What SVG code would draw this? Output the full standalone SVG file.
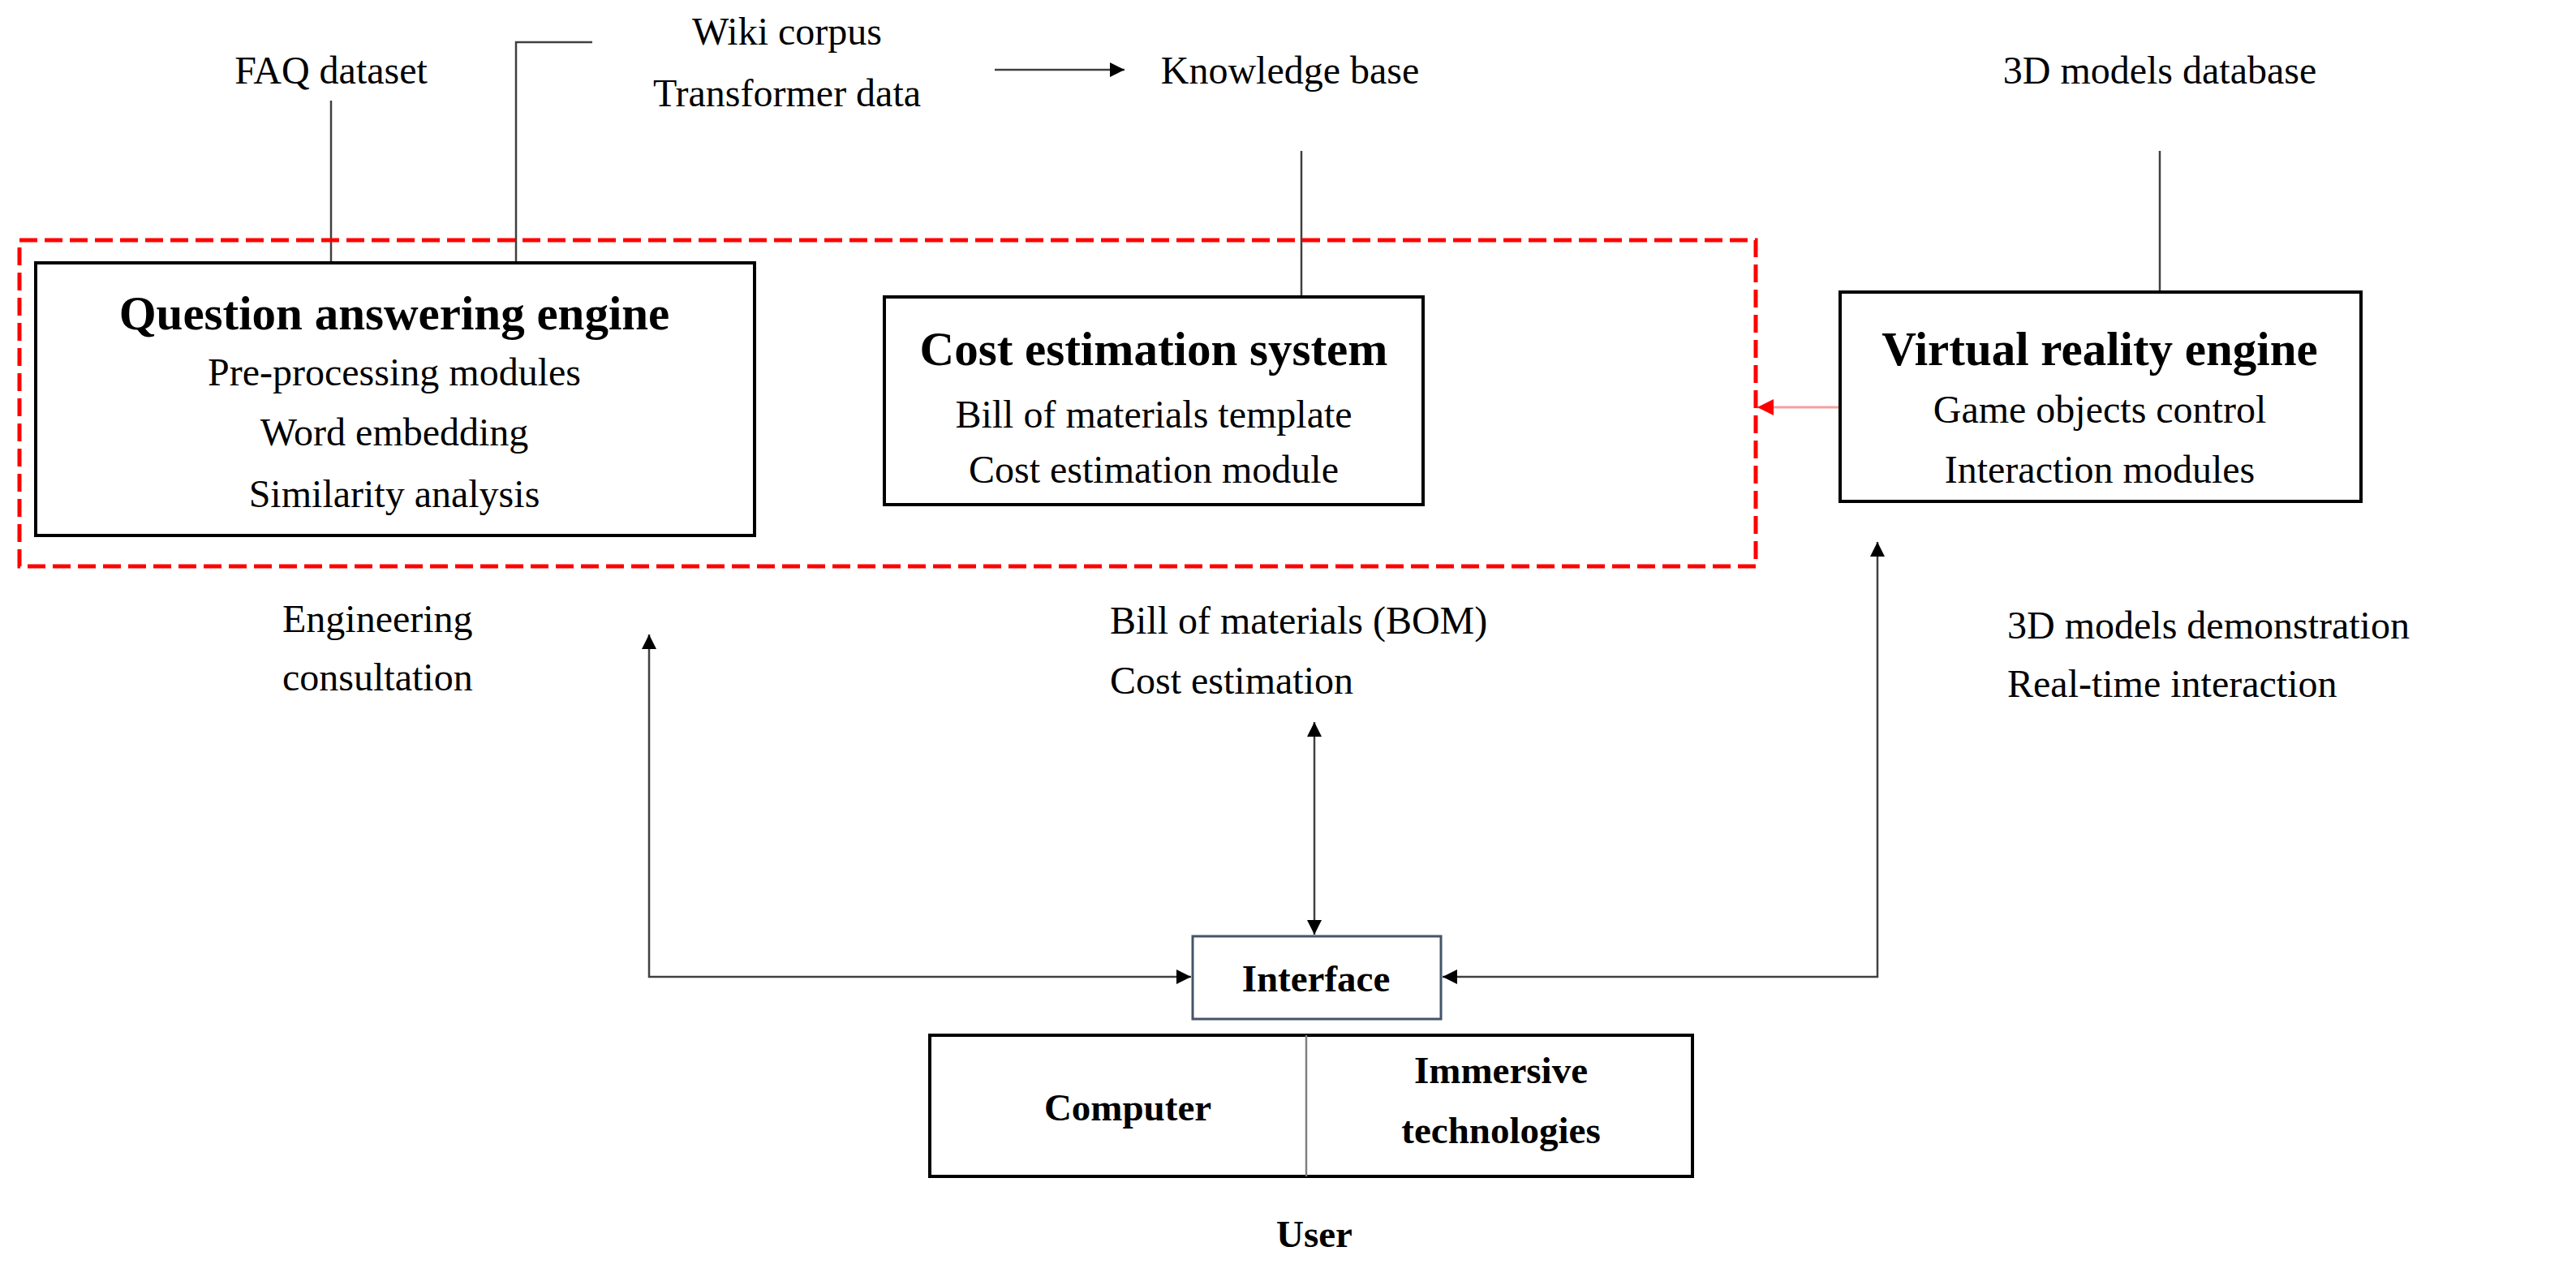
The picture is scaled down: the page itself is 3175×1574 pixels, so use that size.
<svg xmlns="http://www.w3.org/2000/svg" width="3175" height="1574" viewBox="0 0 3175 1574">
<defs>
<style>
text{font-family:"Liberation Serif","Times New Roman",serif;fill:#000}
.t{font-size:48px}
.h{font-size:59px;font-weight:bold}
.b{font-size:47px;font-weight:bold}
.box{fill:#fff;stroke:#000;stroke-width:4}
.ln{fill:none;stroke:#404040;stroke-width:2.5}
.ar{fill:none;stroke:#404040;stroke-width:2.5;marker-end:url(#ah)}
.ar2{fill:none;stroke:#404040;stroke-width:2.5;marker-end:url(#ah);marker-start:url(#ahs)}
</style>
<marker id="ah" viewBox="0 0 10 10" refX="10" refY="5" markerWidth="20" markerHeight="18" orient="auto" markerUnits="userSpaceOnUse"><path d="M0,0 L10,5 L0,10 z" fill="#000"/></marker>
<marker id="ahs" viewBox="0 0 10 10" refX="0" refY="5" markerWidth="20" markerHeight="18" orient="auto" markerUnits="userSpaceOnUse"><path d="M10,0 L0,5 L10,10 z" fill="#000"/></marker>
<marker id="rh" viewBox="0 0 10 10" refX="10" refY="5" markerWidth="20" markerHeight="20" orient="auto" markerUnits="userSpaceOnUse"><path d="M0,0 L10,5 L0,10 z" fill="#f00"/></marker>
</defs>
<rect width="3175" height="1574" fill="#fff"/>
<g id="connectors">
<line class="ln" x1="408" y1="124" x2="408" y2="324"/>
<polyline class="ln" points="636,324 636,52 730,52"/>
<line class="ar" x1="1226" y1="86" x2="1386" y2="86"/>
<line class="ln" x1="1604" y1="186" x2="1604" y2="366"/>
<line class="ln" x1="2662" y1="186" x2="2662" y2="360"/>
<line x1="2268" y1="502" x2="2166" y2="502" stroke="#f4a0a0" stroke-width="3" marker-end="url(#rh)"/>
<polyline class="ar2" points="800,782 800,1204 1468,1204"/>
<line class="ar2" x1="1620" y1="890" x2="1620" y2="1152"/>
<polyline class="ar2" points="2314,668 2314,1204 1778,1204"/>
</g>
<rect id="group" x="24" y="296" width="2140" height="402" fill="none" stroke="#f00" stroke-width="5" stroke-dasharray="22,9"/>
<g id="qa">
<rect class="box" x="44" y="324" width="886" height="336"/>
<text class="h" x="486" y="406" text-anchor="middle">Question answering engine</text>
<text class="t" x="486" y="475" text-anchor="middle">Pre-processing modules</text>
<text class="t" x="486" y="549" text-anchor="middle">Word embedding</text>
<text class="t" x="486" y="625" text-anchor="middle">Similarity analysis</text>
</g>
<g id="cost">
<rect class="box" x="1090" y="366" width="664" height="256"/>
<text class="h" x="1422" y="450" text-anchor="middle">Cost estimation system</text>
<text class="t" x="1422" y="527" text-anchor="middle">Bill of materials template</text>
<text class="t" x="1422" y="595" text-anchor="middle">Cost estimation module</text>
</g>
<g id="vr">
<rect class="box" x="2268" y="360" width="642" height="258"/>
<text class="h" x="2588" y="450" text-anchor="middle">Virtual reality engine</text>
<text class="t" x="2588" y="521" text-anchor="middle">Game objects control</text>
<text class="t" x="2588" y="595" text-anchor="middle">Interaction modules</text>
</g>
<g id="sources">
<text class="t" x="408" y="103" text-anchor="middle">FAQ dataset</text>
<text class="t" x="970" y="55" text-anchor="middle">Wiki corpus</text>
<text class="t" x="970" y="131" text-anchor="middle">Transformer data</text>
<text class="t" x="1590" y="103" text-anchor="middle">Knowledge base</text>
<text class="t" x="2662" y="103" text-anchor="middle">3D models database</text>
</g>
<g id="labels">
<text class="t" x="348" y="779">Engineering</text>
<text class="t" x="348" y="851">consultation</text>
<text class="t" x="1368" y="781">Bill of materials (BOM)</text>
<text class="t" x="1368" y="855">Cost estimation</text>
<text class="t" x="2474" y="787">3D models demonstration</text>
<text class="t" x="2474" y="859">Real-time interaction</text>
</g>
<g id="interface">
<rect x="1470" y="1154" width="306" height="102" fill="#fff" stroke="#44546a" stroke-width="3"/>
<text class="b" x="1622" y="1222" text-anchor="middle">Interface</text>
</g>
<g id="user">
<rect class="box" x="1146" y="1276" width="940" height="174"/>
<line x1="1610" y1="1276" x2="1610" y2="1450" stroke="#808080" stroke-width="2.5"/>
<text class="b" x="1390" y="1381" text-anchor="middle">Computer</text>
<text class="b" x="1850" y="1335" text-anchor="middle">Immersive</text>
<text class="b" x="1850" y="1409" text-anchor="middle">technologies</text>
<text class="b" x="1620" y="1537" text-anchor="middle">User</text>
</g>
</svg>
